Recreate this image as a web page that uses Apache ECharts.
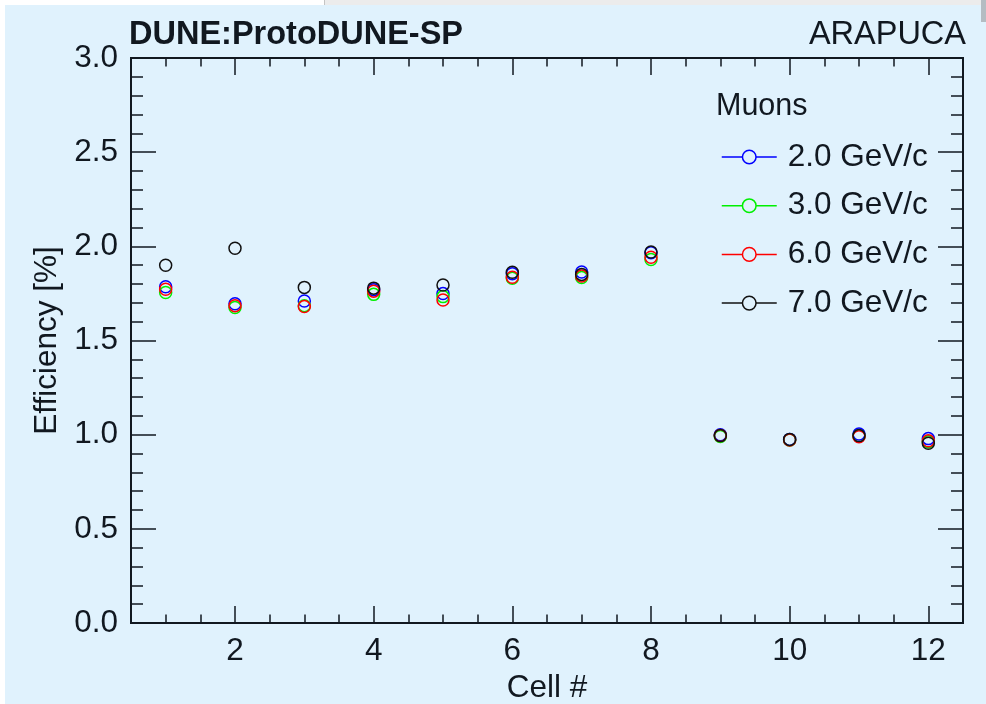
<!DOCTYPE html>
<html>
<head>
<meta charset="utf-8">
<script src="https://cdn.jsdelivr.net/npm/echarts@6/dist/echarts.min.js"></script>
<style>
  html, body { margin: 0; padding: 0; background: #e0f2fd; }
  #chart { width: 986px; height: 704px; }
</style>
</head>
<body>
<div id="chart"></div>
<script>
// Photon detection efficiency per ARAPUCA cell, for several beam momenta
const cells = [1, 2, 3, 4, 5, 6, 7, 8, 9, 10, 11, 12];
const eff2GeV = [1.785, 1.695, 1.710, 1.770, 1.750, 1.855, 1.864, 1.966, 1.000, 0.975, 1.003, 0.979];
const eff3GeV = [1.755, 1.675, 1.685, 1.745, 1.733, 1.830, 1.834, 1.930, 0.990, 0.972, 0.993, 0.963];
const eff6GeV = [1.772, 1.685, 1.680, 1.762, 1.715, 1.836, 1.842, 1.942, 0.995, 0.972, 0.989, 0.968];
const eff7GeV = [1.900, 1.990, 1.782, 1.778, 1.795, 1.862, 1.851, 1.970, 0.995, 0.975, 0.995, 0.954];

const seriesNames = ['2.0 GeV/c', '3.0 GeV/c', '6.0 GeV/c', '7.0 GeV/c'];
const seriesValues = [eff2GeV, eff3GeV, eff6GeV, eff7GeV];
const seriesColors = ['#0000ff', '#00f000', '#ff0000', '#111111'];

const xTickLabels = [2, 4, 6, 8, 10, 12];
const yTickLabels = [0, 0.5, 1.0, 1.5, 2.0, 2.5, 3.0];

const FONT = '"Liberation Sans", Arial, Helvetica, sans-serif';
const INK = '#111820';
const BG = '#e0f2fd';
const TXT = 31.5;      // axis, legend text size
const HEAD = 32.5;     // header text size

const chart = echarts.init(document.getElementById('chart'), null, { renderer: 'canvas' });

const xRange = { min: 0.5, max: 12.5 };
const yRange = { min: yTickLabels[0], max: yTickLabels[yTickLabels.length - 1] };

function xAxisDef(opts) {
  return Object.assign({
    type: 'value', gridIndex: 0, min: xRange.min, max: xRange.max,
    splitLine: { show: false },
    axisLine: { show: false },
    axisLabel: { show: false },
    axisTick: { show: false }
  }, opts);
}
function yAxisDef(opts) {
  return Object.assign({
    type: 'value', gridIndex: 0, min: yRange.min, max: yRange.max, interval: 0.5,
    splitLine: { show: false },
    axisLine: { show: false },
    axisLabel: { show: false },
    axisTick: { show: false }
  }, opts);
}

const majorTickX = { show: true, inside: true, length: 17, customValues: xTickLabels, lineStyle: { color: INK, width: 1.5 } };
const minorTickX = { show: true, inside: true, length: 8.5, lineStyle: { color: INK, width: 1.5 } };
const majorTickY = { show: true, inside: true, length: 25, lineStyle: { color: INK, width: 1.5 } };
const minorTickY = { show: true, length: 12, splitNumber: 5, lineStyle: { color: INK, width: 1.5 } };

const option = {
  backgroundColor: BG,
  animation: false,
  textStyle: { fontFamily: FONT, color: INK },
  grid: { left: 131, right: 23, top: 58, bottom: 81, containLabel: false, outerBoundsMode: 'none',
          show: true, borderColor: INK, borderWidth: 2, backgroundColor: 'transparent' },
  graphic: [
    // window edges around the canvas
    { type: 'rect', shape: { x: 0, y: 0, width: 5, height: 704 }, style: { fill: '#ffffff' }, silent: true },
    { type: 'rect', shape: { x: 0, y: 0, width: 324, height: 5 }, style: { fill: '#ffffff' }, silent: true },
    { type: 'rect', shape: { x: 324, y: 0, width: 662, height: 5 }, style: { fill: '#ececec' }, silent: true },
    { type: 'rect', shape: { x: 324, y: 0, width: 1, height: 5 }, style: { fill: '#c4c4c4' }, silent: true },
    { type: 'rect', shape: { x: 981, y: 0, width: 5, height: 22 }, style: { fill: '#b4bcc2' }, silent: true }
  ],
  title: [
    { text: 'DUNE:ProtoDUNE-SP', left: 124, top: 14,
      textStyle: { fontFamily: FONT, fontSize: HEAD, fontWeight: 'bold', color: INK } },
    { text: 'ARAPUCA', right: 15, top: 14,
      textStyle: { fontFamily: FONT, fontSize: HEAD, fontWeight: 'normal', color: INK } },
    { text: 'Muons', left: 711, top: 86,
      textStyle: { fontFamily: FONT, fontSize: TXT - 1, fontWeight: 'normal', color: INK } }
  ],
  legend: {
    orient: 'vertical', left: 721, top: 141, padding: 0,
    itemWidth: 55, itemHeight: 17, itemGap: 16.7,
    data: seriesNames.map((n, i) => ({
      name: n,
      lineStyle: { width: 1.5, color: seriesColors[i], opacity: 1 },
      itemStyle: { color: BG, borderColor: seriesColors[i], borderWidth: 1.5 }
    })),
    lineStyle: { width: 1.5 },
    textStyle: { fontFamily: FONT, fontSize: TXT, color: INK, lineHeight: 31, padding: [0, 0, 0, 6] },
    selectedMode: false
  },
  xAxis: [
    // bottom: labels + long ticks at even cells
    xAxisDef({ position: 'bottom', name: 'Cell #', nameLocation: 'middle', nameGap: 46,
      nameTextStyle: { fontFamily: FONT, fontSize: TXT, color: INK },
      axisLabel: { show: true, customValues: xTickLabels, margin: 12, fontFamily: FONT, fontSize: TXT, color: INK },
      axisTick: majorTickX }),
    // bottom: short ticks every half cell
    xAxisDef({ position: 'bottom', interval: 0.5, axisTick: minorTickX }),
    // top mirror
    xAxisDef({ position: 'top', axisTick: majorTickX }),
    xAxisDef({ position: 'top', interval: 0.5, axisTick: minorTickX })
  ],
  yAxis: [
    yAxisDef({ position: 'left', name: 'Efficiency [%]', nameLocation: 'middle', nameGap: 67,
      nameTextStyle: { fontFamily: FONT, fontSize: TXT, color: INK },
      axisLabel: { show: true, margin: 13, fontFamily: FONT, fontSize: TXT, color: INK,
        formatter: v => v.toFixed(1) },
      axisTick: majorTickY, minorTick: minorTickY }),
    yAxisDef({ position: 'right', axisTick: majorTickY, minorTick: minorTickY })
  ],
  series: seriesNames.map((name, i) => ({
    name: name,
    type: 'line',
    xAxisIndex: 0, yAxisIndex: 0,
    data: cells.map((c, k) => [c, seriesValues[i][k]]),
    symbol: 'circle',
    symbolSize: 12,
    showAllSymbol: true,
    lineStyle: { width: 0, color: seriesColors[i] },
    itemStyle: { color: 'rgba(0,0,0,0)', borderColor: seriesColors[i], borderWidth: 1.5 },
    emphasis: { disabled: true },
    z: 2 + i
  }))
};

chart.setOption(option);
</script>
</body>
</html>
